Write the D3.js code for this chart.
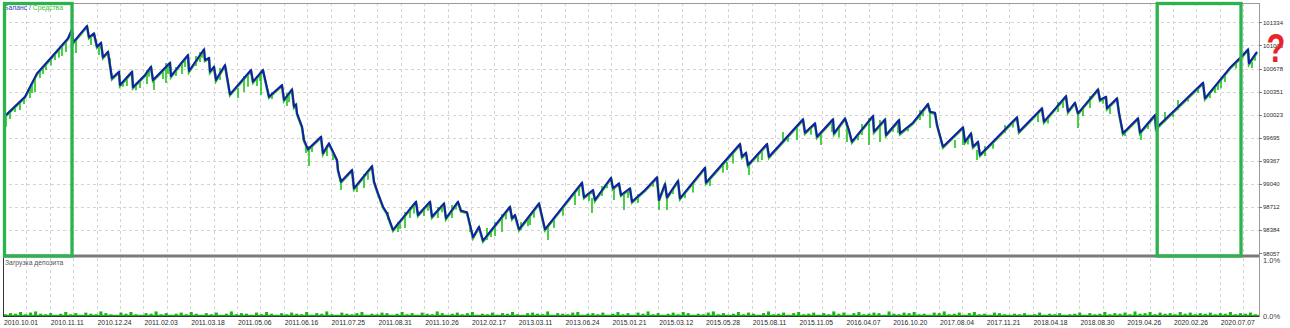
<!DOCTYPE html>
<html>
<head>
<meta charset="utf-8">
<script src="https://cdn.jsdelivr.net/npm/d3@7"></script>
<style>
  body { margin: 0; background: #fff; }
  svg { display: block; font-family: "Liberation Sans", Arial, sans-serif; }
</style>
</head>
<body>
<svg id="chart" width="1290" height="328"></svg>
<script>
// ---- Data ----
const dateLabels = ["2010.10.01", "2010.11.11", "2010.12.24", "2011.02.03", "2011.03.18", "2011.05.06",
    "2011.06.16", "2011.07.25", "2011.08.31", "2011.10.26", "2012.02.17", "2013.03.11", "2013.06.24",
    "2015.01.21", "2015.03.12", "2015.05.28", "2015.08.11", "2015.11.05", "2016.04.07", "2016.10.20",
    "2017.08.04", "2017.11.21", "2018.04.18", "2018.08.30", "2019.04.26", "2020.02.26", "2020.07.07"];

const yTicks = [98057, 98384, 98712, 99040, 99367, 99695, 100023, 100351, 100678, 101006, 101334];

// balance: [trade step, balance]
const balance = [
    [3, 100019], [22, 100278], [34, 100610], [46, 100799], [65, 101107], [69, 101235], [70, 101045],
    [84, 101282], [86, 101121], [91, 101178], [94, 100988], [98, 101045], [100, 100837], [105, 100917],
    [109, 100540], [116, 100633], [117, 100445], [129, 100633], [130, 100412], [142, 100586], [148, 100704],
    [150, 100515], [155, 100586], [167, 100761], [168, 100572], [178, 100752], [185, 100870], [186, 100643],
    [201, 100951], [202, 100799], [206, 100830], [207, 100633], [211, 100704], [213, 100515], [222, 100728],
    [227, 100312], [248, 100657], [250, 100491], [260, 100657], [266, 100278], [279, 100445], [281, 100232],
    [289, 100384], [291, 100137], [293, 100170], [294, 100043], [299, 99853], [301, 99664], [305, 99532],
    [318, 99711], [320, 99476], [326, 99617], [334, 99381], [335, 99239], [338, 99073], [349, 99239],
    [351, 98979], [369, 99295], [371, 99073], [375, 98908], [380, 98718], [384, 98624], [390, 98388],
    [413, 98789], [415, 98600], [427, 98789], [429, 98576], [441, 98766], [443, 98554], [455, 98789],
    [458, 98661], [464, 98640], [470, 98284], [476, 98434], [480, 98236], [507, 98718], [509, 98554],
    [512, 98600], [516, 98397], [536, 98766], [542, 98397], [579, 99059], [581, 98851], [590, 98955],
    [592, 98813], [608, 99129], [610, 98979], [616, 99050], [618, 98884], [627, 98979], [629, 98789],
    [642, 98955], [654, 99135], [656, 98813], [662, 99040], [664, 98851], [675, 99087], [677, 98837],
    [702, 99271], [703, 99059], [737, 99608], [739, 99427], [743, 99484], [745, 99310], [764, 99608],
    [766, 99427], [800, 99958], [802, 99768], [812, 99901], [814, 99711], [830, 99958], [831, 99759],
    [842, 99972], [846, 99800], [849, 99640], [870, 100005], [871, 99782], [882, 99958], [883, 99735],
    [896, 99948], [897, 99759], [910, 99910], [925, 100175], [927, 100066], [932, 100050], [934, 99880],
    [940, 99569], [960, 99844], [962, 99640], [968, 99759], [970, 99569], [975, 99640], [977, 99451],
    [1014, 99986], [1016, 99782], [1039, 100114], [1041, 99924], [1063, 100288], [1065, 100066],
    [1072, 100193], [1075, 100043], [1095, 100384], [1097, 100232], [1103, 100278], [1104, 100114],
    [1114, 100256], [1116, 100050], [1120, 99759], [1135, 99972], [1137, 99768], [1152, 100019],
    [1153, 99830], [1200, 100477], [1202, 100256], [1228, 100704], [1240, 100870], [1245, 100951],
    [1246, 100752], [1254, 100917]
];

// equity drawdowns: [trade step, equity top, equity low]
const equityDips = [
    [3, 100019, 99853], [7, 100076, 99962], [12, 100141, 100060], [17, 100217, 100090], [21, 100274, 100175],
    [27, 100402, 100260], [29, 100470, 100330], [32, 100530, 100345], [37, 100657, 100544], [40, 100705, 100600],
    [43, 100742, 100657], [48, 100831, 100720], [52, 100899, 100799], [56, 100945, 100830], [59, 100983, 100856],
    [63, 101068, 100913], [73, 101082, 100899], [88, 101153, 101011], [96, 101011, 100870], [107, 100827, 100685],
    [120, 100492, 100420], [124, 100572, 100430], [133, 100455, 100370], [137, 100515, 100402], [144, 100657, 100459],
    [146, 100665, 100560], [151, 100544, 100374], [160, 100671, 100530], [163, 100756, 100473], [165, 100732, 100600],
    [173, 100700, 100572], [179, 100771, 100600], [182, 100819, 100700], [193, 100856, 100714], [197, 100913, 100771],
    [199, 100910, 100830], [213, 100600, 100487], [217, 100685, 100515], [235, 100402, 100260], [241, 100572, 100345],
    [245, 100608, 100420], [254, 100572, 100430], [257, 100607, 100500], [258, 100629, 100303], [269, 100345, 100246],
    [284, 100331, 100146], [286, 100327, 100200], [300, 99806, 99664], [303, 99598, 99480], [306, 99579, 99296],
    [309, 99593, 99494], [324, 99593, 99437], [330, 99499, 99380], [338, 99125, 98955], [354, 99040, 98926],
    [361, 99182, 98983], [365, 99225, 99100], [385, 98643, 98529], [395, 98501, 98359], [397, 98510, 98400],
    [402, 98643, 98416], [407, 98714, 98558], [411, 98750, 98620], [421, 98714, 98586], [425, 98757, 98660],
    [435, 98714, 98558], [439, 98734, 98640], [449, 98742, 98558], [453, 98750, 98680], [467, 98444, 98359],
    [484, 98416, 98246], [488, 98379, 98290], [492, 98501, 98302], [499, 98615, 98359], [503, 98650, 98540],
    [518, 98501, 98387], [525, 98563, 98440], [527, 98615, 98458], [531, 98674, 98560], [545, 98444, 98246],
    [551, 98558, 98416], [560, 98719, 98590], [572, 98926, 98742], [576, 99005, 98870], [586, 98909, 98800],
    [589, 98841, 98628], [599, 99012, 98869], [604, 99050, 98980], [611, 98983, 98813], [621, 98926, 98671],
    [625, 98958, 98840], [635, 98897, 98770], [650, 99075, 99000], [656, 98855, 98671], [664, 98855, 98671],
    [670, 98980, 98900], [682, 98926, 98841], [690, 99063, 98920], [707, 99096, 99012], [720, 99334, 99200],
    [724, 99352, 99239], [730, 99495, 99330], [746, 99352, 99168], [755, 99467, 99350], [759, 99522, 99380],
    [780, 99777, 99664], [785, 99724, 99640], [794, 99834, 99664], [808, 99848, 99740], [818, 99763, 99593],
    [829, 99919, 99777], [836, 99856, 99700], [844, 99919, 99636], [855, 99744, 99660], [859, 99891, 99735],
    [866, 99976, 99593], [877, 99948, 99636], [890, 99850, 99780], [895, 99891, 99763], [905, 99852, 99790],
    [917, 100090, 99948], [920, 100087, 100000], [927, 100118, 99834], [952, 99664, 99551], [960, 99806, 99593],
    [965, 99700, 99600], [974, 99522, 99380], [982, 99579, 99437], [990, 99639, 99540], [1002, 99877, 99763],
    [1010, 99928, 99840], [1035, 100061, 99919], [1045, 99990, 99900], [1055, 100203, 100061], [1060, 100238, 100120],
    [1075, 100061, 99834], [1080, 100128, 100000], [1087, 100288, 100118], [1100, 100263, 100180],
    [1107, 100175, 100033], [1122, 99806, 99721], [1138, 99806, 99664], [1145, 99902, 99820], [1162, 100061, 99919],
    [1170, 100064, 99990], [1175, 100232, 100090], [1185, 100270, 100210], [1195, 100408, 100330],
    [1207, 100345, 100260], [1212, 100428, 100330], [1215, 100487, 100374], [1218, 100531, 100400],
    [1222, 100600, 100487], [1233, 100773, 100680], [1249, 100771, 100685], [1252, 100876, 100790]
];

// deposit load, %
const depositLoad = [
    0.03, 0.05, 0.04, 0.07, 0.03, 0.06, 0.08, 0.04, 0.03, 0.05, 0.02, 0.04, 0.07, 0.03, 0.05, 0.02, 0.06, 0.04, 0.03, 0.08,
    0.05, 0.03, 0.02, 0.06, 0.04, 0.07, 0.03, 0.02, 0.05, 0.04, 0.08, 0.03, 0.05, 0.02, 0.04, 0.06, 0.03, 0.07, 0.04, 0.02,
    0.05, 0.03, 0.06, 0.02, 0.04, 0.08, 0.03, 0.05, 0.04, 0.02, 0.06, 0.03, 0.07, 0.04, 0.02, 0.05, 0.03, 0.06, 0.04, 0.03,
    0.07, 0.02, 0.05, 0.04, 0.08, 0.03, 0.02, 0.06, 0.04, 0.03, 0.05, 0.07, 0.02, 0.04, 0.03, 0.06, 0.05, 0.02, 0.04, 0.07,
    0.03, 0.05, 0.02, 0.06, 0.04, 0.03, 0.08, 0.05, 0.02, 0.04, 0.06, 0.03, 0.05, 0.07, 0.02, 0.04, 0.03, 0.06, 0.02, 0.05,
    0.04, 0.07, 0.03, 0.02, 0.05, 0.06, 0.04, 0.03, 0.08, 0.02, 0.05, 0.04, 0.03, 0.06, 0.07, 0.02, 0.04, 0.05, 0.03, 0.06,
    0.02, 0.04, 0.07, 0.03, 0.05, 0.02, 0.06, 0.04, 0.08, 0.03, 0.05, 0.02, 0.04, 0.06, 0.03, 0.07, 0.05, 0.02, 0.04, 0.03,
    0.06, 0.08, 0.03, 0.05, 0.02, 0.04, 0.07, 0.03, 0.06, 0.04, 0.02, 0.05, 0.08, 0.03, 0.04, 0.06, 0.02, 0.05, 0.07, 0.03,
    0.04, 0.06, 0.02, 0.05, 0.03, 0.08, 0.04, 0.06, 0.02, 0.05, 0.07, 0.03, 0.04, 0.06, 0.05, 0.02, 0.08, 0.04, 0.03, 0.06,
    0.05, 0.07, 0.03, 0.04, 0.02, 0.06, 0.05, 0.08, 0.03, 0.04, 0.06, 0.02, 0.05, 0.07, 0.03, 0.04, 0.02, 0.06, 0.05, 0.03,
    0.02, 0.04, 0.03, 0.05, 0.02, 0.03, 0.06, 0.02, 0.04, 0.03, 0.05, 0.02, 0.03, 0.04, 0.06, 0.02, 0.05, 0.03, 0.04, 0.07,
    0.03, 0.05, 0.04, 0.06, 0.03, 0.08, 0.04, 0.05, 0.07, 0.03, 0.06, 0.04, 0.05, 0.03, 0.07, 0.04, 0.06, 0.03, 0.05, 0.04,
    0.06, 0.03, 0.05, 0.04, 0.07, 0.03, 0.05, 0.04, 0.06, 0.03
];

// ---- Layout ----
const left = 3, right = 1259;
const mainTop = 3, mainBottom = 255;
const subTop = 258, subBottom = 316;
const maxStep = 1256;
const labelStep = 46.8;

const svg = d3.select("#chart");

const xScale = d3.scaleLinear().domain([0, maxStep]).range([left, right]);
const yScale = d3.scaleLinear().domain([98057, 101334]).range([253.3, 22.3]);
const loadScale = d3.scaleLinear().domain([0, 1]).range([subBottom, 259]);

svg.append("defs").append("clipPath").attr("id", "clipMain")
    .append("rect").attr("x", left).attr("y", mainTop).attr("width", right - left).attr("height", mainBottom - mainTop);

// Gridlines
const gridSteps = d3.range(0, maxStep, labelStep / 2);
const grid = svg.append("g").attr("class", "grid")
    .attr("stroke", "#d4d4d4").attr("stroke-dasharray", "3,3").attr("stroke-width", 1);

grid.selectAll(".vmain").data(gridSteps.slice(1)).join("line")
    .attr("class", "vmain")
    .attr("x1", d => Math.round(xScale(d)) + 0.5).attr("x2", d => Math.round(xScale(d)) + 0.5)
    .attr("y1", mainTop).attr("y2", mainBottom);

grid.selectAll(".vsub").data(gridSteps.slice(1)).join("line")
    .attr("class", "vsub")
    .attr("x1", d => Math.round(xScale(d)) + 0.5).attr("x2", d => Math.round(xScale(d)) + 0.5)
    .attr("y1", subTop).attr("y2", subBottom);

grid.selectAll(".h").data(yTicks.slice(1)).join("line")
    .attr("class", "h")
    .attr("x1", left).attr("x2", right)
    .attr("y1", d => Math.round(yScale(d)) + 0.5).attr("y2", d => Math.round(yScale(d)) + 0.5);

// Equity drawdowns (green) under balance (blue)
const plot = svg.append("g").attr("clip-path", "url(#clipMain)");

plot.append("g").selectAll("line").data(equityDips).join("line")
    .attr("x1", d => xScale(d[0])).attr("x2", d => xScale(d[0]))
    .attr("y1", d => yScale(d[1])).attr("y2", d => yScale(d[2]))
    .attr("stroke", "#1ec41e").attr("stroke-width", 1.6);

const line = d3.line().x(d => xScale(d[0])).y(d => yScale(d[1]));

plot.append("path").datum(balance)
    .attr("d", line)
    .attr("fill", "none")
    .attr("stroke", "#2ec42e")
    .attr("stroke-width", 2.6)
    .attr("transform", "translate(0,0.8)");

plot.append("path").datum(balance)
    .attr("d", line)
    .attr("fill", "none")
    .attr("stroke", "#1a1ab0")
    .attr("stroke-width", 2)
    .attr("stroke-linejoin", "round");

// Deposit load panel: thin bars
const loadX = d3.scaleLinear().domain([0, depositLoad.length]).range([left + 1, right]);
svg.append("g").selectAll("rect").data(depositLoad).join("rect")
    .attr("x", (d, i) => loadX(i))
    .attr("width", 3)
    .attr("y", d => loadScale(d))
    .attr("height", d => subBottom - loadScale(d))
    .attr("fill", "#17b517");
svg.append("rect").attr("x", left + 1).attr("width", right - left - 1)
    .attr("y", loadScale(0.02)).attr("height", subBottom - loadScale(0.02))
    .attr("fill", "#17b517");

// Frames
svg.append("rect").attr("x", left + 0.5).attr("y", mainTop + 0.5)
    .attr("width", right - left).attr("height", subBottom - mainTop)
    .attr("fill", "none").attr("stroke", "#9a9a9a");
svg.append("line").attr("x1", left).attr("x2", right).attr("y1", 256).attr("y2", 256)
    .attr("stroke", "#7a7a7a").attr("stroke-width", 3);
svg.append("line").attr("x1", left + 0.5).attr("x2", left + 0.5).attr("y1", subTop).attr("y2", subBottom)
    .attr("stroke", "#333");
svg.append("line").attr("x1", left).attr("x2", right).attr("y1", subBottom + 0.5).attr("y2", subBottom + 0.5)
    .attr("stroke", "#333");

// Right axis ticks and labels
const yAxis = svg.append("g");
yAxis.selectAll("line").data(yTicks).join("line")
    .attr("x1", right).attr("x2", right + 3)
    .attr("y1", d => Math.round(yScale(d)) + 0.5).attr("y2", d => Math.round(yScale(d)) + 0.5)
    .attr("stroke", "#777");
yAxis.selectAll("text").data(yTicks).join("text")
    .attr("x", right + 4).attr("y", d => yScale(d) + 2.2)
    .attr("font-size", "6px").attr("fill", "#2a2a2a")
    .text(d => d);

svg.append("text").attr("x", right + 4).attr("y", loadScale(1) + 3.5)
    .attr("font-size", "7.5px").attr("fill", "#444").text("1.0%");
svg.append("text").attr("x", right + 4).attr("y", loadScale(0) + 3)
    .attr("font-size", "7.5px").attr("fill", "#444").text("0.0%");

// Date labels
svg.append("g").selectAll("text").data(dateLabels).join("text")
    .attr("x", (d, i) => xScale(i * labelStep) + 1)
    .attr("y", 325)
    .attr("font-size", "6.8px").attr("fill", "#2a2a2a")
    .text(d => d);

// Titles
const legendText = svg.append("text").attr("x", 4).attr("y", 10).attr("font-size", "6.8px");
legendText.append("tspan").attr("fill", "#3a3ab8").text("Баланс");
legendText.append("tspan").attr("fill", "#3a3ab8").text(" / ");
legendText.append("tspan").attr("fill", "#3cbf3c").text("Средства");

svg.append("text").attr("x", 5).attr("y", 265).attr("font-size", "6.8px").attr("fill", "#555")
    .text("Загрузка депозита");

// Annotations: green frames and red question mark
const marks = [
    { from: 0, to: 67.5 },
    { from: 1152.7, to: 1236.5 }
];
svg.append("g").selectAll("rect").data(marks).join("rect")
    .attr("x", d => xScale(d.from) + 1.5)
    .attr("y", 3.5)
    .attr("width", d => xScale(d.to) - xScale(d.from))
    .attr("height", 252.5)
    .attr("fill", "none")
    .attr("stroke", "#2db34d")
    .attr("stroke-width", 3.3);

svg.append("text")
    .attr("transform", "translate(1276,62) scale(0.75,1)")
    .attr("text-anchor", "middle")
    .attr("font-size", "41px").attr("font-weight", "bold")
    .attr("fill", "#e8232a")
    .text("?");
</script>
</body>
</html>
